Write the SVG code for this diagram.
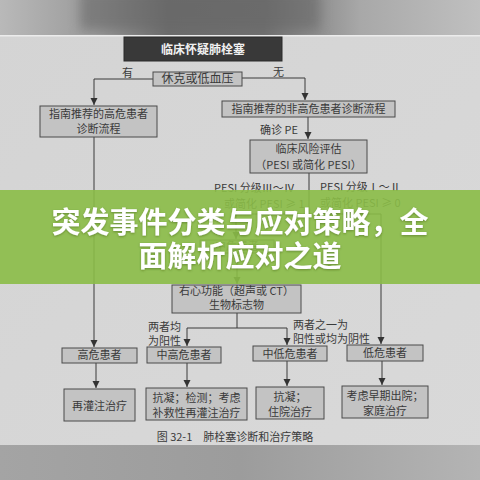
<svg xmlns="http://www.w3.org/2000/svg" width="480" height="480" viewBox="0 0 480 480">
<defs>
<linearGradient id="topg" x1="0" y1="0" x2="1" y2="0">
<stop offset="0" stop-color="#b9b9b9"/><stop offset="0.2" stop-color="#9a9a9a"/><stop offset="0.35" stop-color="#6c6c6c"/><stop offset="0.55" stop-color="#707070"/><stop offset="0.75" stop-color="#a8a8a8"/><stop offset="1" stop-color="#c0c0c0"/>
</linearGradient>
<linearGradient id="botg" x1="0" y1="0" x2="1" y2="0">
<stop offset="0" stop-color="#a4a4a4"/><stop offset="0.5" stop-color="#9c9c9c"/><stop offset="1" stop-color="#b4b4b4"/>
</linearGradient>
<linearGradient id="pageg" x1="0" y1="0" x2="1" y2="1">
<stop offset="0" stop-color="#d4d4d4"/><stop offset="1" stop-color="#d9d9d9"/>
</linearGradient>
<marker id="arr" markerWidth="8" markerHeight="8" refX="7" refY="4" orient="auto" markerUnits="userSpaceOnUse">
<path d="M0,0.5 L7,4 L0,7.5 Z" fill="#333"/>
</marker>
<filter id="sh" x="-10%" y="-30%" width="120%" height="160%">
<feDropShadow dx="0" dy="1" stdDeviation="1.2" flood-color="#3a5a10" flood-opacity="0.5"/>
</filter>
<filter id="blur"><feGaussianBlur stdDeviation="6"/></filter>
</defs>
<style>
.box{fill:#c3c3c3;stroke:#4a4a4a;stroke-width:1}
.t{font-family:"Noto Sans CJK SC","Liberation Serif",serif;font-size:11px;fill:#3a3a3a;text-anchor:middle}
.lab{font-family:"Noto Sans CJK SC","Liberation Serif",serif;font-size:11px;fill:#3a3a3a}
.ln{fill:none;stroke:#3a3a3a;stroke-width:1}
.ban{font-family:"Noto Sans CJK SC",sans-serif;font-size:29px;font-weight:bold;fill:#ffffff;text-anchor:middle}
</style>
<rect x="0" y="0" width="480" height="480" fill="url(#pageg)"/>
<rect x="0" y="0" width="480" height="36" fill="url(#topg)"/>
<rect x="80" y="-10" width="240" height="40" fill="#686868" filter="url(#blur)" opacity="0.6"/>
<rect x="0" y="35" width="480" height="1.5" fill="#ececec"/>
<rect x="0" y="445" width="480" height="35" fill="url(#botg)"/>

<g id="connectors">
<polyline class="ln" points="153,79 94,79 94,105" marker-end="url(#arr)"/>
<polyline class="ln" points="242,78 305,78 305,100" marker-end="url(#arr)"/>
<polyline class="ln" points="308,117 308,139" marker-end="url(#arr)"/>
<polyline class="ln" points="309,173 309,214"/>
<polyline class="ln" points="236,214 381,214"/>
<polyline class="ln" points="236,214 236,239" marker-end="url(#arr)"/>
<polyline class="ln" points="381,214 381,344" marker-end="url(#arr)"/>
<polyline class="ln" points="237,253 237,284" marker-end="url(#arr)"/>
<polyline class="ln" points="94,137 94,347" marker-end="url(#arr)"/>
<polyline class="ln" points="237,313 237,328"/>
<polyline class="ln" points="187,328 287,328"/>
<polyline class="ln" points="187,328 187,346" marker-end="url(#arr)"/>
<polyline class="ln" points="287,328 287,345" marker-end="url(#arr)"/>
<polyline class="ln" points="96,363 96,388" marker-end="url(#arr)"/>
<polyline class="ln" points="187,363 187,387" marker-end="url(#arr)"/>
<polyline class="ln" points="287,361 287,386" marker-end="url(#arr)"/>
<polyline class="ln" points="382,361 382,385" marker-end="url(#arr)"/>
<text class="lab" x="122" y="77">有</text>
<text class="lab" x="273" y="76">无</text>
<text class="lab" x="260" y="134">确诊 PE</text>
<text class="lab" x="214" y="192">PESI 分级Ⅲ～Ⅳ</text>
<text class="lab" x="224" y="208">或简化 PESI ≥ 1</text>
<text class="lab" x="320" y="191">PESI 分级Ⅰ～Ⅱ</text>
<text class="lab" x="320" y="207">或简化 PESI ≥ 0</text>
<text class="lab" x="148" y="331">两者均</text>
<text class="lab" x="148" y="345">为阳性</text>
<text class="lab" x="293" y="329">两者之一为</text>
<text class="lab" x="293" y="343">阳性或均为阴性</text>
</g>

<g id="n-title">
<rect x="124" y="37" width="158" height="24" fill="#393939" stroke="#2a2a2a"/>
<text class="t" x="203" y="54" style="fill:#f0f0f0;font-weight:bold;font-size:12px">临床怀疑肺栓塞</text>
</g>
<g id="n-shock">
<rect class="box" x="153" y="72" width="89" height="14"/>
<text class="t" x="197.5" y="83" style="font-size:12px">休克或低血压</text>
</g>
<g id="n-high-flow">
<rect class="box" x="40" y="106" width="117" height="31"/>
<text class="t" x="98.5" y="118">指南推荐的高危患者</text>
<text class="t" x="98.5" y="133">诊断流程</text>
</g>
<g id="n-nonhigh-flow">
<rect class="box" x="222" y="101" width="173" height="16"/>
<text class="t" x="308.5" y="113">指南推荐的非高危患者诊断流程</text>
</g>
<g id="n-risk">
<rect class="box" x="250" y="140" width="117" height="33"/>
<text class="t" x="308.5" y="153">临床风险评估</text>
<text class="t" x="308.5" y="169">（PESI 或简化 PESI）</text>
</g>
<g id="n-mid">
<rect class="box" x="200" y="240" width="74" height="13"/>
<text class="t" x="237" y="250">中危患者</text>
</g>
<g id="n-rv">
<rect class="box" x="172" y="285" width="129" height="28"/>
<text class="t" x="236.5" y="295">右心功能（超声或 CT）</text>
<text class="t" x="236.5" y="309">生物标志物</text>
</g>
<g id="n-high">
<rect class="box" x="62" y="348" width="75" height="15"/>
<text class="t" x="99.5" y="359">高危患者</text>
</g>
<g id="n-midhigh">
<rect class="box" x="147" y="347" width="74" height="16"/>
<text class="t" x="184" y="359">中高危患者</text>
</g>
<g id="n-midlow">
<rect class="box" x="253" y="346" width="74" height="15"/>
<text class="t" x="290" y="358">中低危患者</text>
</g>
<g id="n-low">
<rect class="box" x="347" y="345" width="76" height="16"/>
<text class="t" x="385" y="357">低危患者</text>
</g>
<g id="n-reperf">
<rect class="box" x="64" y="389" width="71" height="32"/>
<text class="t" x="99.5" y="410">再灌注治疗</text>
</g>
<g id="n-midhigh-tx">
<rect class="box" x="146" y="388" width="101" height="32"/>
<text class="t" x="196.5" y="402">抗凝；检测；考虑</text>
<text class="t" x="196.5" y="417">补救性再灌注治疗</text>
</g>
<g id="n-midlow-tx">
<rect class="box" x="256" y="387" width="68" height="32"/>
<text class="t" x="290" y="401">抗凝；</text>
<text class="t" x="290" y="416">住院治疗</text>
</g>
<g id="n-low-tx">
<rect class="box" x="342" y="386" width="86" height="32"/>
<text class="t" x="385" y="400">考虑早期出院；</text>
<text class="t" x="385" y="415">家庭治疗</text>
</g>
<text x="235" y="441" style="font-family:'Noto Sans CJK SC','Liberation Sans',sans-serif;font-size:11px;fill:#3a3a3a;text-anchor:middle">图 32-1　肺栓塞诊断和治疗策略</text>

<g id="banner">
<rect x="0" y="190" width="480" height="94" fill="#8bbd47" opacity="0.9"/>
<text class="ban" x="240" y="233" filter="url(#sh)">突发事件分类与应对策略，全</text>
<text class="ban" x="240" y="267" filter="url(#sh)">面解析应对之道</text>
</g>
</svg>
